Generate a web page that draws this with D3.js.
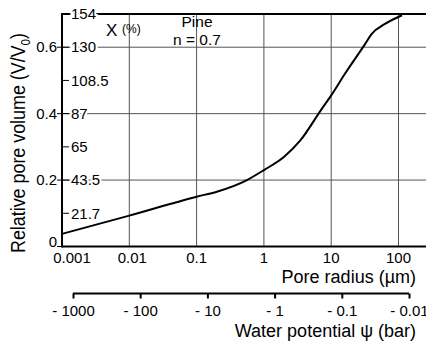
<!DOCTYPE html>
<html><head><meta charset="utf-8">
<script src="https://cdn.jsdelivr.net/npm/d3@7"></script>
<style>body{margin:0;background:#fff}svg{display:block;font-family:Arial,"Liberation Sans",sans-serif}</style>
</head><body><svg id="c" width="426" height="346"></svg>
<script>
// Data
const poreRadius = [0.001, 0.01, 0.1, 0.2, 0.56, 1, 2, 3.5, 7, 10, 16, 32, 40, 63, 107, 113];
const relVolume  = [0.038, 0.093, 0.150, 0.165, 0.20, 0.23, 0.27, 0.32, 0.41, 0.455, 0.52, 0.61, 0.64, 0.67, 0.694, 0.696];
const radiusTicks = [0.001, 0.01, 0.1, 1, 10, 100];
const radiusTickLabels = ["0.001", "0.01", "0.1", "1", "10", "100"];
const psiTicks = [1000, 100, 10, 1, 0.1, 0.01];
const psiTickLabels = ["- 1000", "- 100", "- 10", "- 1", "- 0.1", "- 0.01"];
const vTicks = [0, 0.2, 0.4, 0.6];
const vTickLabels = ["0", "0.2", "0.4", "0.6"];
const xPctTicks = [0.1, 0.2, 0.3, 0.4, 0.5, 0.6, 0.7];
const xPctLabels = ["21.7", "43.5", "65", "87", "108.5", "130", "154"];

const FONT = "Arial,'Liberation Sans',sans-serif";
const svg = d3.select("#c");
const L = 62, T = 14, B = 246.5, R = 426, dec = 67.3;
const x = d3.scaleLog().domain([0.001, 1000]).range([L, L + 6 * dec]);
const y = d3.scaleLinear().domain([0, 0.7]).range([B, T]);
const x2 = d3.scaleLog().domain([1000, 0.01]).range([73, 409]);

// grid
const g = svg.append("g");
g.selectAll(".vg").data(radiusTicks.slice(1)).enter().append("line")
  .attr("x1", d => x(d)).attr("x2", d => x(d)).attr("y1", T).attr("y2", B)
  .attr("stroke", "#555").attr("stroke-width", 1);
g.selectAll(".hg").data(vTicks.slice(1)).enter().append("line")
  .attr("x1", L).attr("x2", R).attr("y1", d => y(d)).attr("y2", d => y(d))
  .attr("stroke", "#555").attr("stroke-width", 1);

// curve
const line = d3.line().x((d, i) => x(poreRadius[i])).y(d => y(d)).curve(d3.curveMonotoneX);
svg.append("path").attr("d", line(relVolume)).attr("fill", "none")
  .attr("stroke", "#000").attr("stroke-width", 2);

// frame lines
svg.append("line").attr("x1", L).attr("x2", R).attr("y1", T).attr("y2", T)
  .attr("stroke", "#000").attr("stroke-width", 2);
svg.append("line").attr("x1", L).attr("x2", L).attr("y1", T - 1).attr("y2", B + 1)
  .attr("stroke", "#000").attr("stroke-width", 2);
svg.append("line").attr("x1", L).attr("x2", R).attr("y1", B).attr("y2", B)
  .attr("stroke", "#000").attr("stroke-width", 2);

// inner X(%) axis labels with white halo
const inner = svg.append("g");
inner.selectAll("text").data(xPctTicks).enter().append("text")
  .attr("x", L + 9).attr("y", d => y(d)).attr("dy", "0.35em")
  .attr("font-size", 15).attr("fill", "#000")
  .attr("stroke", "#fff").attr("stroke-width", 4).attr("paint-order", "stroke")
  .text((d, i) => xPctLabels[i]);
inner.selectAll("line").data(xPctTicks).enter().append("line")
  .attr("x1", L).attr("x2", L + 7).attr("y1", d => y(d)).attr("y2", d => y(d))
  .attr("stroke", "#000").attr("stroke-width", 1);

// outer V axis
const outer = svg.append("g");
outer.selectAll("line").data(vTicks).enter().append("line")
  .attr("x1", L - 5).attr("x2", L).attr("y1", d => y(d)).attr("y2", d => y(d))
  .attr("stroke", "#000").attr("stroke-width", 1);
outer.selectAll("text").data(vTicks).enter().append("text")
  .attr("x", L - 5).attr("y", d => y(d)).attr("dy", d => d === 0 ? "0.05em" : "0.35em")
  .attr("text-anchor", "end").attr("font-size", 15).attr("fill", "#000")
  .text((d, i) => vTickLabels[i]);

// bottom radius labels (first one nudged right as in the original)
svg.append("g").selectAll("text").data(radiusTicks).enter().append("text")
  .attr("x", d => x(d)).attr("dx", (d, i) => i === 0 ? 10 : (i === 1 ? 3 : 0))
  .attr("y", 263).attr("text-anchor", "middle").attr("font-size", 15)
  .text((d, i) => radiusTickLabels[i]);
svg.append("text").attr("x", 416).attr("y", 282.5).attr("text-anchor", "end").attr("font-size", 18)
  .text("Pore radius (µm)");

// water potential axis
const ax2 = d3.axisBottom(x2).tickValues(psiTicks).tickSize(5).tickFormat((d, i) => psiTickLabels[i]);
const a2 = svg.append("g").attr("transform", "translate(0,293.5)").call(ax2);
a2.select(".domain").attr("stroke-width", 2).attr("d", "M73,0H409");
a2.selectAll(".tick line").attr("stroke-width", 2);
a2.selectAll(".tick text").attr("font-size", 15).attr("font-family", FONT).attr("dy", "0.95em");
svg.append("text").attr("x", 416).attr("y", 336.5).attr("text-anchor", "end").attr("font-size", 18)
  .text("Water potential ψ (bar)");

// y title
const yt = svg.append("text").attr("transform", "translate(25,143) rotate(-90)")
  .attr("text-anchor", "middle").attr("font-size", 20)
  .attr("textLength", 220).attr("lengthAdjust", "spacingAndGlyphs");
yt.append("tspan").text("Relative pore volume (V/V");
yt.append("tspan").attr("font-size", 13).attr("dy", 5).text("0");
yt.append("tspan").attr("dy", -5).text(")");

// annotations
const xl = svg.append("text").attr("x", 106).attr("y", 35.5).attr("font-size", 17);
xl.append("tspan").text("X ");
xl.append("tspan").attr("font-size", 12).attr("dy", -3).text("(%)");
svg.append("text").attr("x", 197).attr("y", 27).attr("text-anchor", "middle").attr("font-size", 15.5).text("Pine");
svg.append("text").attr("x", 197).attr("y", 45).attr("text-anchor", "middle").attr("font-size", 15.5).text("n = 0.7");
</script></body></html>
